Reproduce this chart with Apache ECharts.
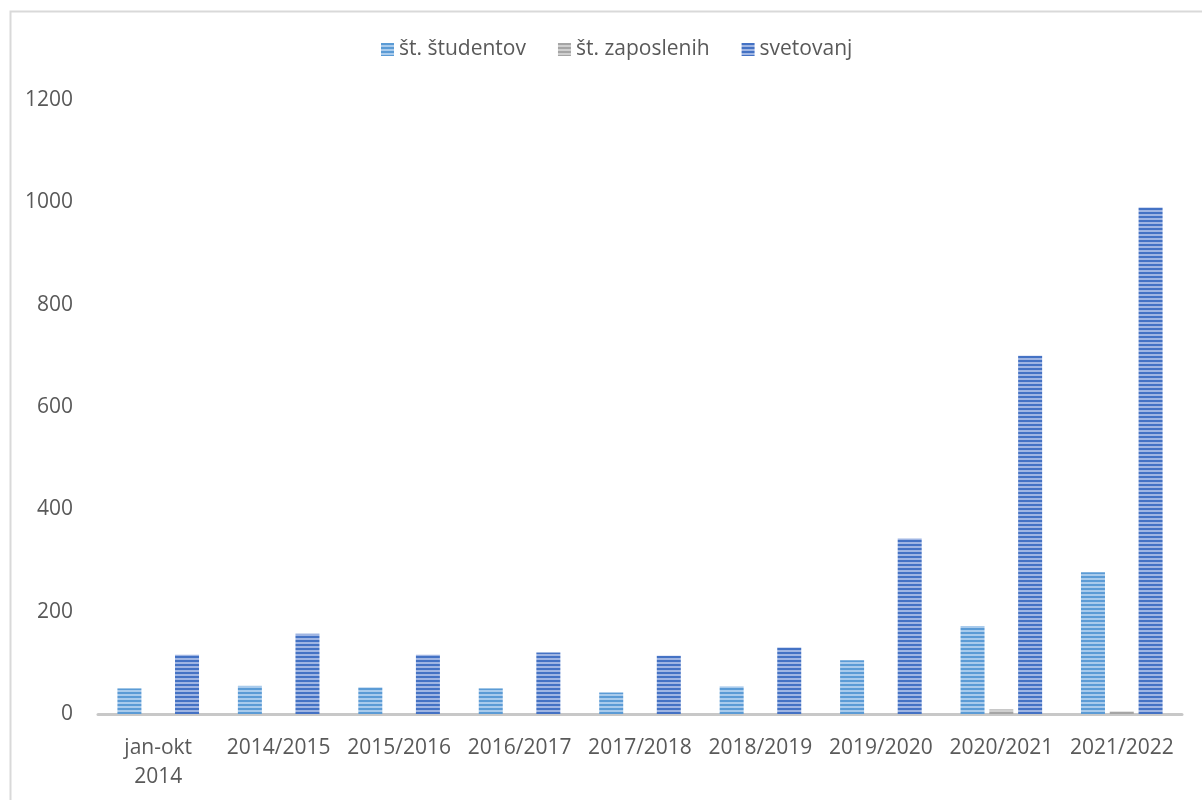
<!DOCTYPE html>
<html>
<head>
<meta charset="utf-8">
<script src="https://cdn.jsdelivr.net/npm/echarts@6/dist/echarts.min.js"></script>
<style>
  html, body { margin: 0; padding: 0; background: #fff; }
  #chart { width: 1202px; height: 800px; }
</style>
</head>
<body>
<div id="chart"></div>
<script>
// podatki
const categories = ['jan-okt\n2014', '2014/2015', '2015/2016', '2016/2017', '2017/2018', '2018/2019', '2019/2020', '2020/2021', '2021/2022'];
const studentov = [50, 55, 52, 50, 42, 54, 105, 172, 277];
const zaposlenih = [0, 0, 0, 0, 0, 0, 0, 9, 5];
const svetovanj = [116, 157, 116, 120, 114, 130, 343, 700, 990];
const seriesNames = ['št. študentov', 'št. zaposlenih', 'svetovanj'];
const yTicks = { min: 0, max: 1200, interval: 200 };

// vodoravne črte kot v Excelu
function stripes(dark, light) {
  const c = document.createElement('canvas');
  c.width = 4;
  c.height = 4;
  const ctx = c.getContext('2d');
  ctx.fillStyle = dark;
  ctx.fillRect(0, 0, 4, 2);
  ctx.fillStyle = light;
  ctx.fillRect(0, 2, 4, 2);
  return { image: c, repeat: 'repeat' };
}

const font = '"Open Sans", sans-serif';
const chart = echarts.init(document.getElementById('chart'));

const bar = (name, data, fill) => ({
  name,
  type: 'bar',
  data,
  barWidth: 24,
  barGap: '20%',
  barCategoryGap: '32%',
  itemStyle: { color: fill },
  emphasis: { disabled: true }
});

chart.setOption({
  animation: false,
  textStyle: { fontFamily: font },
  graphic: [{
    type: 'rect',
    left: 8,
    top: 9,
    shape: { width: 1400, height: 1000 },
    style: { fill: 'none', stroke: '#d9d9d9', lineWidth: 2 },
    silent: true
  }],
  legend: {
    top: 34,
    left: 376,
    icon: 'rect',
    itemWidth: 13,
    itemHeight: 13,
    itemGap: 32,
    textStyle: { fontSize: 21, color: '#595959', fontFamily: font },
    data: seriesNames
  },
  grid: { left: 98, right: 20, top: 100, bottom: 86, containLabel: false },
  xAxis: {
    type: 'category',
    data: categories,
    axisLine: { lineStyle: { color: '#c8c8c8', width: 3 } },
    axisTick: { show: false },
    axisLabel: { fontSize: 21, color: '#595959', margin: 20, lineHeight: 29, interval: 0 }
  },
  yAxis: {
    type: 'value',
    min: yTicks.min,
    max: yTicks.max,
    interval: yTicks.interval,
    splitLine: { show: false },
    axisLine: { show: false },
    axisTick: { show: false },
    axisLabel: { fontSize: 21, color: '#595959', margin: 25, formatter: v => String(v) }
  },
  series: [
    bar(seriesNames[0], studentov, stripes('#5b9bd5', '#a9cbec')),
    bar(seriesNames[1], zaposlenih, stripes('#a5a5a5', '#cfcfcf')),
    bar(seriesNames[2], svetovanj, stripes('#4472c4', '#9fb5e3'))
  ]
});
</script>
</body>
</html>
